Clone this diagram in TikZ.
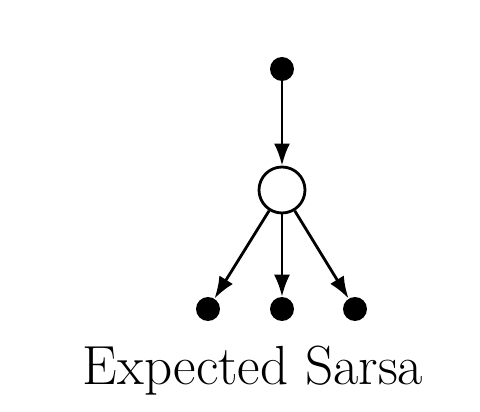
\documentclass[tikz,border=0pt]{standalone}
\usetikzlibrary{arrows.meta}

\begin{document}
\begin{tikzpicture}[
  sdot/.style={circle, fill=black, inner sep=0, minimum size=0.6cm},
  adot/.style={circle, draw, line width=2pt, fill=white, inner sep=0, minimum size=1.15cm},
  link/.style={->, line width=2pt, >={Latex[length=0.55cm,width=0.4cm]}}]
\useasboundingbox (0,0) rectangle (12,10.3);
\node[sdot] (s) at (7.05,8.575) {};
\node[adot] (a) at (7.05,5.55) {};
\node[sdot] (s1) at (5.2,2.575) {};
\node[sdot] (s2) at (7.05,2.575) {};
\node[sdot] (s3) at (8.875,2.575) {};
\node[anchor=base] (lbl) at (6.325,0.675) {\fontsize{39.2}{44}\selectfont Expected Sarsa};
% Arrows
\draw [link] (s)--(a);
\draw [link] (a)--(s1);
\draw [link] (a)--(s2);
\draw [link] (a)--(s3);
\end{tikzpicture}
\end{document}
